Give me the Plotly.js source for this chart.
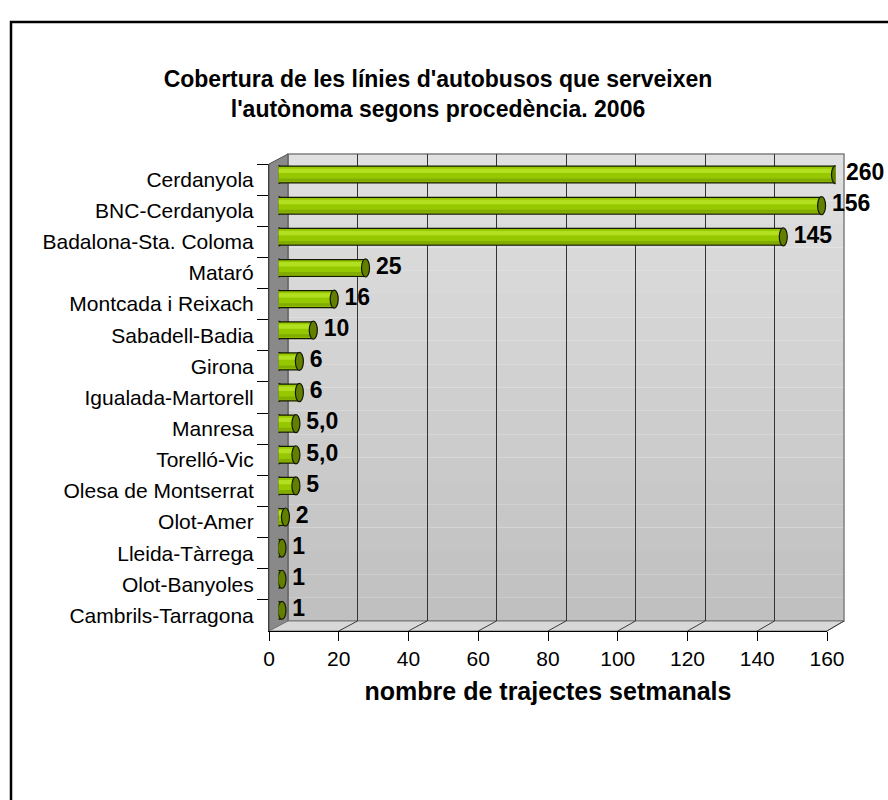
<!DOCTYPE html>
<html>
<head>
<meta charset="utf-8">
<script src="https://cdn.plot.ly/plotly-3.0.1.min.js"></script>
<style>html,body{margin:0;padding:0;background:#fff;}#chart{width:888px;height:800px;}</style>
</head>
<body>
<div id="chart"></div>
<script>
// ---- data ----
const categories = ["Cerdanyola","BNC-Cerdanyola","Badalona-Sta. Coloma","Mataró","Montcada i Reixach","Sabadell-Badia","Girona","Igualada-Martorell","Manresa","Torelló-Vic","Olesa de Montserrat","Olot-Amer","Lleida-Tàrrega","Olot-Banyoles","Cambrils-Tarragona"];
const values = [260,156,145,25,16,10,6,6,5,5,5,2,1,1,1];
const labelTexts = ["260","156","145","25","16","10","6","6","5,0","5,0","5","2","1","1","1"];
const xTicks = [0,20,40,60,80,100,120,140,160];

// ---- geometry (pixels) ----
const W = 888, H = 800;
const XMAX = 160;
const px = x => x / W;
const py = y => 1 - y / H;
const FRONT = {l:269, r:827, t:164, b:631};
const BACK  = {l:288, r:844, t:154, b:621};
const MID   = {l:278.5, r:835.5, t:159, b:626};
const FONT = "Liberation Sans, Arial, sans-serif";

const clipped = values.map(v => Math.min(v, XMAX));

const traces = [
  // front axis host (invisible)
  {type:'scatter', x: clipped, y: categories, xaxis:'x', yaxis:'y', mode:'markers',
   marker:{opacity:0}, hoverinfo:'skip', showlegend:false},
  // back wall grid host
  {type:'scatter', x: [], y: [], xaxis:'x2', yaxis:'y2', mode:'markers', hoverinfo:'skip', showlegend:false},
  // cylinder bars
  {type:'bar', orientation:'h', x: values, y: categories, xaxis:'x3', yaxis:'y3', width:0.58,
   marker:{color:'#141800', line:{width:0}}, hoverinfo:'skip', showlegend:false},
  {type:'bar', orientation:'h', x: values, y: categories, xaxis:'x3', yaxis:'y3', width:0.5,
   marker:{color:'#96c800', line:{width:0}}, hoverinfo:'skip', showlegend:false},
  {type:'bar', orientation:'h', x: values, y: categories, xaxis:'x3', yaxis:'y3', width:0.14, offset:-0.19,
   marker:{color:'#b2e020', line:{width:0}}, hoverinfo:'skip', showlegend:false},
  {type:'bar', orientation:'h', x: values, y: categories, xaxis:'x3', yaxis:'y3', width:0.1, offset:0.13,
   marker:{color:'#82ad00', line:{width:0}}, hoverinfo:'skip', showlegend:false},
  // data labels
  {type:'scatter', x: clipped, y: categories, xaxis:'x3', yaxis:'y3', mode:'markers+text',
   text: labelTexts, textposition:'middle right', cliponaxis:false,
   marker:{size:15, opacity:0},
   textfont:{family:FONT, size:23, color:'#000', weight:'bold'},
   hoverinfo:'skip', showlegend:false}
];

const shapes = [];
// outer border
shapes.push({type:'rect', xref:'paper', yref:'paper', x0:px(11), x1:1.05, y0:py(22), y1:-0.05,
  line:{color:'#000', width:2.5}, fillcolor:'rgba(0,0,0,0)', layer:'below'});
// back wall gradient bands
const nb = 20;
for (let i = 0; i < nb; i++) {
  const t = i / (nb - 1);
  const c = Math.round(0xe0 - t * (0xe0 - 0xc0));
  const y0 = BACK.t + (BACK.b - BACK.t) * i / nb;
  const y1 = BACK.t + (BACK.b - BACK.t) * (i + 1) / nb;
  shapes.push({type:'rect', xref:'paper', yref:'paper', x0:px(BACK.l), x1:px(BACK.r), y0:py(y0), y1:py(y1),
    fillcolor:`rgb(${c},${c},${c})`, line:{width:0}, layer:'below'});
}
shapes.push({type:'rect', xref:'paper', yref:'paper', x0:px(BACK.l), x1:px(BACK.r), y0:py(BACK.t), y1:py(BACK.b),
  fillcolor:'rgba(0,0,0,0)', line:{color:'#808080', width:1.5}, layer:'below'});
// left side wall
const P = (x, y) => `${px(x)},${py(y)}`;
shapes.push({type:'path', xref:'paper', yref:'paper',
  path:`M${P(FRONT.l,FRONT.t)} L${P(BACK.l,BACK.t)} L${P(BACK.l,BACK.b)} L${P(FRONT.l,FRONT.b)} Z`,
  fillcolor:'#898989', line:{color:'#505050', width:1}, layer:'below'});
// floor
shapes.push({type:'path', xref:'paper', yref:'paper',
  path:`M${P(FRONT.l,FRONT.b)} L${P(BACK.l,BACK.b)} L${P(BACK.r,BACK.b)} L${P(FRONT.r,FRONT.b)} Z`,
  fillcolor:'#d8d8d8', line:{color:'#7a7a7a', width:1}, layer:'below'});
// floor diagonals at ticks
xTicks.slice(1).forEach(v => {
  const fx = FRONT.l + v / XMAX * (FRONT.r - FRONT.l);
  const bx = BACK.l + v / XMAX * (BACK.r - BACK.l);
  shapes.push({type:'line', xref:'paper', yref:'paper', x0:px(fx), y0:py(FRONT.b), x1:px(bx), y1:py(BACK.b),
    line:{color:'#3a3a3a', width:1}, layer:'below'});
});
// cylinder ends
categories.forEach((c, i) => {
  shapes.push({type:'circle', xref:'x3', yref:'y3', xsizemode:'pixel', xanchor:0, x0:-4.5, x1:4.5,
    y0:i - 0.29, y1:i + 0.29, fillcolor:'#96c800', line:{color:'#141800', width:1.2}, layer:'between'});
  shapes.push({type:'circle', xref:'x3', yref:'y3', xsizemode:'pixel', xanchor:clipped[i], x0:-4, x1:4,
    y0:i - 0.29, y1:i + 0.29, fillcolor:'#627f00', line:{color:'#141800', width:1.2}, layer:'above'});
});

const layout = {
  width: W, height: H,
  margin:{l:0, r:0, t:0, b:0, pad:0},
  paper_bgcolor:'#fff', plot_bgcolor:'rgba(0,0,0,0)',
  showlegend:false, barmode:'overlay',
  font:{family:FONT, color:'#000'},
  title:{text:"Cobertura de les línies d'autobusos que serveixen<br>l'autònoma segons procedència. 2006",
    font:{family:FONT, size:23, color:'#000', weight:'bold'},
    x: px(438), xanchor:'center', y: py(87), yanchor:'middle', xref:'paper', yref:'paper'},
  xaxis:{domain:[px(FRONT.l), px(FRONT.r)], range:[0, XMAX], anchor:'y',
    tickmode:'array', tickvals:xTicks, ticktext:xTicks.map(String),
    ticks:'outside', ticklen:9, tickwidth:1, tickcolor:'#000',
    showline:true, linecolor:'#000', linewidth:1, showgrid:false, zeroline:false,
    tickfont:{family:FONT, size:21, color:'#000'},
    title:{text:'nombre de trajectes setmanals', standoff:13,
      font:{family:FONT, size:25, color:'#000', weight:'bold'}},
    fixedrange:true},
  yaxis:{domain:[py(FRONT.b), py(FRONT.t)], type:'category', categoryorder:'array', categoryarray:categories,
    range:[categories.length - 0.5, -0.5], anchor:'x', tickson:'boundaries',
    ticks:'outside', ticklen:11, tickwidth:1, tickcolor:'#000', ticklabelstandoff:10,
    showline:true, linecolor:'#404040', showgrid:false, zeroline:false,
    tickfont:{family:FONT, size:21, color:'#000'}, fixedrange:true},
  xaxis2:{domain:[px(BACK.l), px(BACK.r)], range:[0, XMAX], anchor:'y2',
    tickmode:'array', tickvals:xTicks, showgrid:true, gridcolor:'#333', gridwidth:1,
    showticklabels:false, ticks:'', zeroline:false, showline:false, fixedrange:true},
  yaxis2:{domain:[py(BACK.b), py(BACK.t)], range:[0,1], anchor:'x2', visible:false, fixedrange:true},
  xaxis3:{domain:[px(MID.l), px(MID.r)], range:[0, XMAX], anchor:'y3', visible:false, fixedrange:true},
  yaxis3:{domain:[py(MID.b), py(MID.t)], type:'category', categoryorder:'array', categoryarray:categories,
    range:[categories.length - 0.5, -0.5], anchor:'x3', visible:false, fixedrange:true},
  shapes: shapes
};

Plotly.newPlot('chart', traces, layout, {displayModeBar:false, staticPlot:true});
</script>
</body>
</html>
